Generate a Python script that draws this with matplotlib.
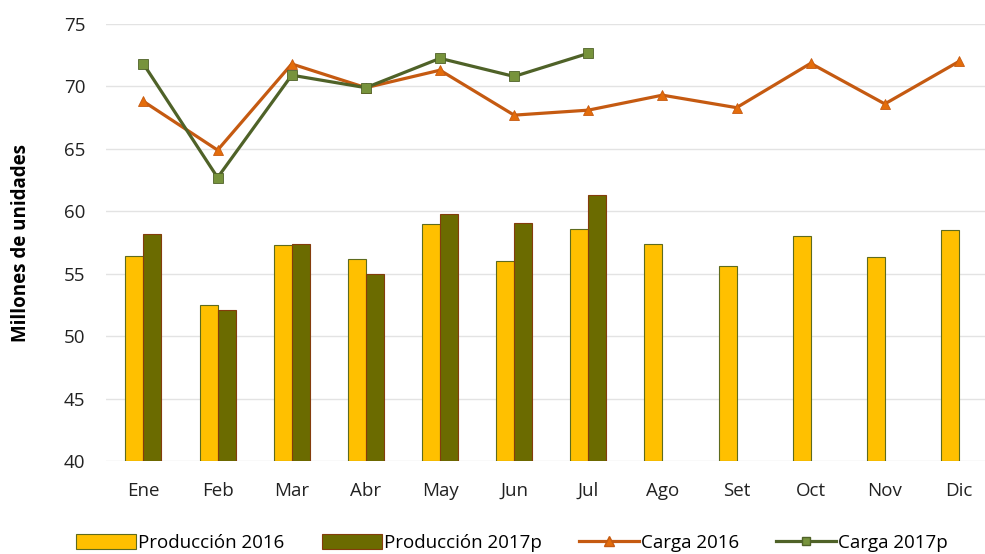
import numpy as np
import matplotlib
matplotlib.use("Agg")
import matplotlib.pyplot as plt
from matplotlib.lines import Line2D
from matplotlib.patches import Patch

plt.rcParams['font.family'] = ['Open Sans', 'DejaVu Sans']

# --- data ---
months = ['Ene', 'Feb', 'Mar', 'Abr', 'May', 'Jun', 'Jul', 'Ago', 'Set', 'Oct', 'Nov', 'Dic']
prod_2016 = [56.4, 52.5, 57.3, 56.2, 59.0, 56.0, 58.6, 57.35, 55.6, 58.0, 56.3, 58.5]
prod_2017 = [58.2, 52.1, 57.4, 54.95, 59.8, 59.1, 61.3]
carga_2016 = [68.8, 64.9, 71.8, 69.9, 71.3, 67.7, 68.1, 69.3, 68.3, 71.85, 68.6, 72.0]
carga_2017 = [71.8, 62.7, 70.9, 69.9, 72.25, 70.8, 72.65]
yticks = [40, 45, 50, 55, 60, 65, 70, 75]

c_prod16 = '#FFC000'
c_prod17 = '#6B6B00'
c_carga16 = '#C55A11'
c_carga16_mk = '#E46C0A'
c_carga17 = '#4F6228'
c_carga17_mk = '#77933C'

fig = plt.figure(figsize=(9.85, 5.54), dpi=100)
ax = fig.add_axes([106.4 / 985, 1 - 461 / 554, (996 - 106.4) / 985, (461 - 24) / 554])

x = np.arange(len(months))
x17 = np.arange(len(prod_2017))
w = 0.243

ax.bar(x - w / 2, np.array(prod_2016) - 40, w, bottom=40, color=c_prod16,
       edgecolor='#5E6B1E', linewidth=0.8, zorder=2)
ax.bar(x17 + w / 2, np.array(prod_2017) - 40, w, bottom=40, color=c_prod17,
       edgecolor='#843C0C', linewidth=0.8, zorder=2)

ax.plot(x, carga_2016, color=c_carga16, lw=2.3, marker='^', ms=7,
        mfc=c_carga16_mk, mec=c_carga16, mew=0.6, zorder=3)
ax.plot(x17, carga_2017, color=c_carga17, lw=2.3, marker='s', ms=7,
        mfc=c_carga17_mk, mec=c_carga17, mew=0.6, zorder=4)

ax.set_xlim(-0.5, len(months) - 0.5)
ax.set_ylim(40, 75)
ax.set_yticks(yticks)
ax.set_xticks(x)
ax.set_xticklabels(months)
ax.tick_params(axis='both', length=0, labelsize=13.5, colors='#222222')
ax.tick_params(axis='y', pad=15)
ax.tick_params(axis='x', pad=15)
ax.grid(axis='y', color='#E3E3E3', lw=1, zorder=0)
for s in ax.spines.values():
    s.set_visible(False)
ax.set_ylabel('Millones de unidades', fontsize=13.5, fontweight='bold')
ax.yaxis.set_label_coords(-(106.4 - 31) / (996 - 106.4), 0.5)

handles = [
    Patch(facecolor=c_prod16, edgecolor='#5E6B1E', lw=0.8),
    Patch(facecolor=c_prod17, edgecolor='#843C0C', lw=0.8),
    Line2D([], [], color=c_carga16, lw=2.3, marker='^', ms=7, mfc=c_carga16_mk, mec=c_carga16),
    Line2D([], [], color=c_carga17, lw=2.3, marker='s', ms=6, mfc=c_carga17_mk, mec=c_carga17),
]
labels = ['Producción 2016', 'Producción 2017p', 'Carga 2016', 'Carga 2017p']
fig.legend(handles, labels, loc='center', bbox_to_anchor=(512 / 985, 1 - 543 / 554),
           ncol=4, frameon=False, fontsize=13.5, handlelength=3.2, handletextpad=0.1,
           columnspacing=2.0, handleheight=0.9)

fig.savefig('out.png', dpi=100)
